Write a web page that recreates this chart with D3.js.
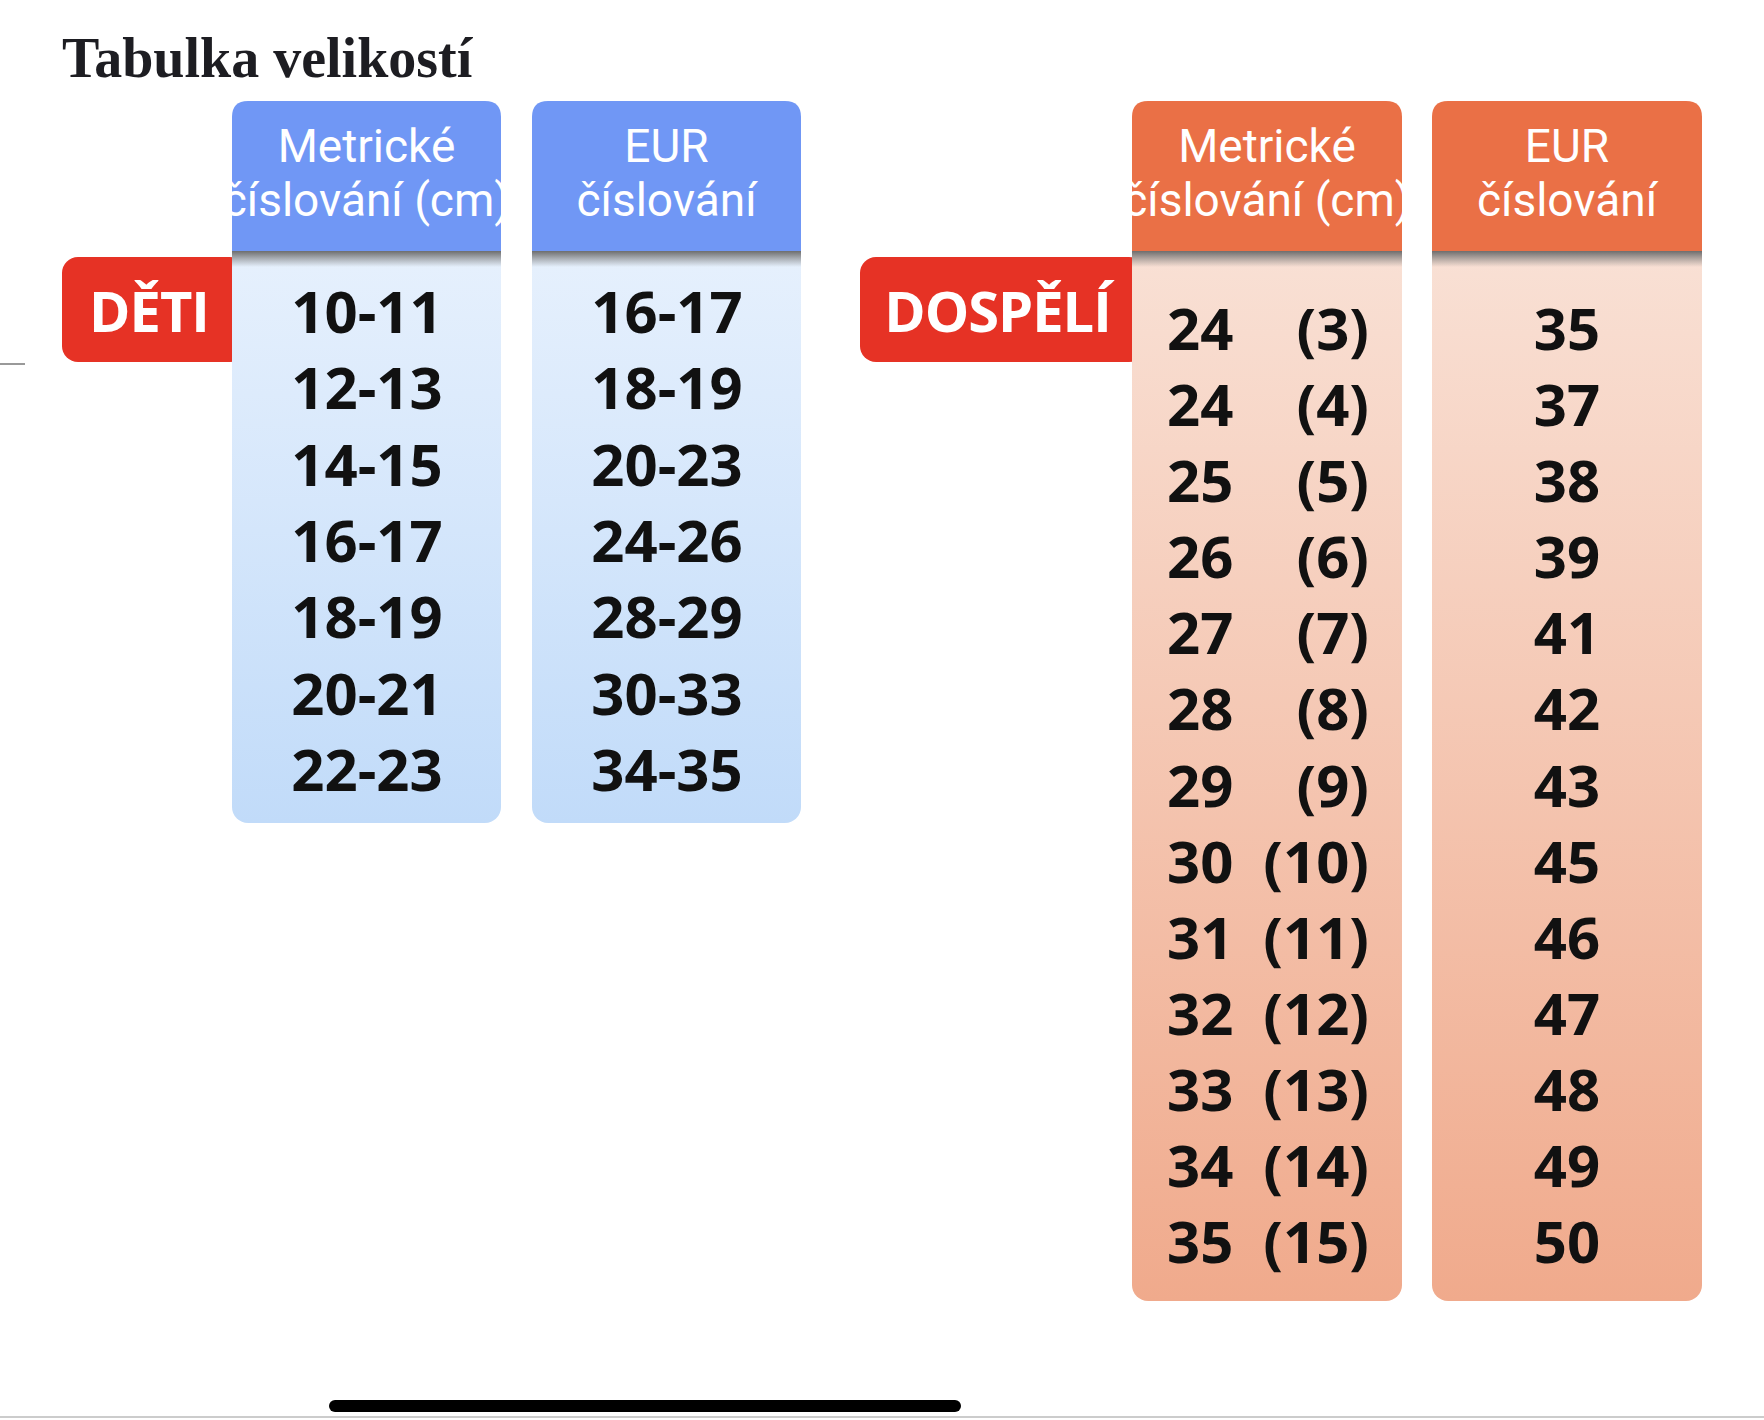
<!DOCTYPE html>
<html><head><meta charset="utf-8">
<script src="https://cdn.jsdelivr.net/npm/d3@7"></script>
<style>body{margin:0;background:#fff}svg{display:block}</style>
</head><body>
<script>
// data
const kidsMetric = ['10-11','12-13','14-15','16-17','18-19','20-21','22-23'];
const kidsEur = ['16-17','18-19','20-23','24-26','28-29','30-33','34-35'];
const adultCm = [24,24,25,26,27,28,29,30,31,32,33,34,35];
const adultUk = [3,4,5,6,7,8,9,10,11,12,13,14,15];
const adultEur = [35,37,38,39,41,42,43,45,46,47,48,49,50];
const headers = [['Metrické','číslování (cm)'],['EUR','číslování']];

const W = 1764, H = 1420;
const svg = d3.select('body').append('svg').attr('width', W).attr('height', H);
const defs = svg.append('defs');

function grad(id, c1, c2) {
  const g = defs.append('linearGradient').attr('id', id).attr('x1', 0).attr('x2', 0).attr('y1', 0).attr('y2', 1);
  g.append('stop').attr('offset', 0).attr('stop-color', c1);
  g.append('stop').attr('offset', 1).attr('stop-color', c2);
}
grad('blueBody', '#f0f6fe', '#c1dbf9');
grad('orangeBody', '#fae8df', '#f0aa8c');
grad('shade', '#6d6d6d', 'rgba(120,120,120,0)');

svg.append('text').attr('x', 62).attr('y', 77)
  .attr('font-family', 'Liberation Serif, serif').attr('font-weight', 'bold')
  .attr('font-size', 56).attr('fill', '#1d1d22').text('Tabulka velikostí');

const colTop = 101, headBottom = 251, r = 16;
const numFont = 'Open Sans, sans-serif';

function column(x0, x1, bottom, head, bodyFill, headFill) {
  const g = svg.append('g');
  g.append('rect').attr('x', x0).attr('y', colTop).attr('width', x1 - x0).attr('height', bottom - colTop)
    .attr('rx', r).attr('fill', bodyFill);
  g.append('path').attr('fill', headFill)
    .attr('d', `M${x0},${headBottom}V${colTop + r}Q${x0},${colTop} ${x0 + r},${colTop}H${x1 - r}Q${x1},${colTop} ${x1},${colTop + r}V${headBottom}Z`);
  g.append('rect').attr('x', x0).attr('y', headBottom).attr('width', x1 - x0).attr('height', 16).attr('fill', 'url(#shade)');
  head.forEach((t, i) => g.append('text').attr('x', (x0 + x1) / 2).attr('y', 162 + i * 54)
    .attr('text-anchor', 'middle').attr('fill', '#fff')
    .attr('font-family', 'Liberation Sans Narrow, Roboto, sans-serif').attr('font-size', 46)
    .text(t));
}

function badge(x0, x1, label) {
  svg.append('rect').attr('x', x0).attr('y', 257).attr('width', x1 - x0 + 14).attr('height', 105)
    .attr('rx', 16).attr('fill', '#e63225');
  svg.append('text').attr('x', (x0 + x1) / 2 + 2).attr('y', 332).attr('text-anchor', 'middle')
    .attr('fill', '#fff').attr('font-family', numFont).attr('font-weight', 'bold')
    .attr('font-size', 56).attr('letter-spacing', -1).text(label);
}

function cells(data, x, y, anchor) {
  svg.append('g').selectAll('text').data(data).enter().append('text')
    .attr('x', x).attr('y', (d, i) => y(i) + 20).attr('text-anchor', anchor)
    .attr('font-family', numFont).attr('font-weight', 'bold').attr('font-size', 58)
    .attr('fill', '#111').text(d => d);
}

// kids
badge(62, 232, 'DĚTI');
column(232, 501, 823, headers[0], 'url(#blueBody)', '#7097f5');
column(532, 801, 823, headers[1], 'url(#blueBody)', '#7097f5');
const yKids = d3.scaleLinear().domain([0, kidsMetric.length - 1]).range([313, 771]);
cells(kidsMetric, 367, yKids, 'middle');
cells(kidsEur, 667, yKids, 'middle');

// adults
badge(860, 1131, 'DOSPĚLÍ');
column(1132, 1402, 1301, headers[0], 'url(#orangeBody)', '#ea7046');
column(1432, 1702, 1301, headers[1], 'url(#orangeBody)', '#ea7046');
const yAd = d3.scaleLinear().domain([0, adultCm.length - 1]).range([330, 1243]);
cells(adultCm, 1167, yAd, 'start');
cells(adultUk.map(d => `(${d})`), 1369, yAd, 'end');
cells(adultEur, 1567, yAd, 'middle');

// phone chrome
svg.append('line').attr('x1', 0).attr('x2', 25).attr('y1', 364).attr('y2', 364).attr('stroke', '#999').attr('stroke-width', 2);
svg.append('rect').attr('x', 329).attr('y', 1400).attr('width', 632).attr('height', 12).attr('rx', 6).attr('fill', '#000');
svg.append('line').attr('x1', 0).attr('x2', W).attr('y1', 1417).attr('y2', 1417).attr('stroke', '#ccc').attr('stroke-width', 2);
</script>
</body></html>
